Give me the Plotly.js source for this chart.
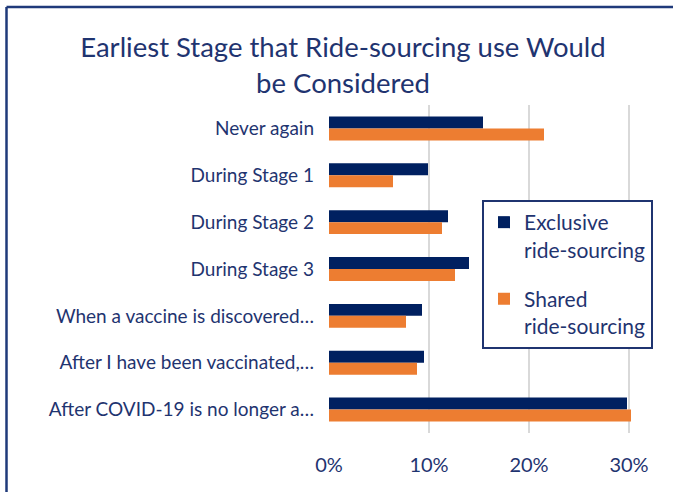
<!DOCTYPE html>
<html>
<head>
<meta charset="utf-8">
<script src="https://cdn.plot.ly/plotly-3.0.1.min.js"></script>
<style>html,body{margin:0;padding:0;background:#fff;}#chart{width:673px;height:492px;}</style>
</head>
<body>
<div id="chart"></div>
<script>
var categories = [
  "Never again",
  "During Stage 1",
  "During Stage 2",
  "During Stage 3",
  "When a vaccine is discovered…",
  "After I have been vaccinated,…",
  "After COVID-19 is no longer a…"
];
var exclusiveValues = [15.4, 9.9, 11.9, 14.0, 9.3, 9.5, 29.8];
var sharedValues = [21.5, 6.4, 11.3, 12.6, 7.7, 8.8, 30.2];
var seriesNames = ["Exclusive<br>ride-sourcing", "Shared<br>ride-sourcing"];
var xTickValues = [0, 10, 20, 30];
var xTickLabels = ["0%", "10%", "20%", "30%"];

var navy = "#002060";
var orange = "#ED7D31";
var textColor = "#1F3470";
var fontFam = "Lato, 'Open Sans', sans-serif";

var traces = [
  {type: "bar", orientation: "h", y: categories, x: exclusiveValues, name: seriesNames[0],
   legendgroup: "g1", marker: {color: navy}},
  {type: "bar", orientation: "h", y: categories, x: sharedValues, name: seriesNames[1],
   legendgroup: "g2", marker: {color: orange}}
];

var L = 329, R = 673 - 639, T = 105, B = 492 - 433;
var pw = 673 - L - R, ph = 492 - T - B;
function px(x) { return (x - L) / pw; }
function py(y) { return (492 - B - y) / ph; }

var layout = {
  width: 673, height: 492,
  margin: {l: L, r: R, t: T, b: B},
  paper_bgcolor: "#fff", plot_bgcolor: "#fff",
  font: {family: fontFam, color: textColor},
  title: {text: "Earliest Stage that Ride-sourcing use Would<br>be Considered",
          font: {size: 27.5, color: textColor, family: fontFam},
          x: 343 / 673, xanchor: "center", xref: "container",
          y: 1 - 57 / 492, yanchor: "middle", yref: "container"},
  barmode: "group", bargap: 0.49, bargroupgap: 0,
  showlegend: true,
  legend: {x: px(482), y: py(200), xanchor: "left", yanchor: "top",
           bgcolor: "#fff", bordercolor: "#1F3470", borderwidth: 2,
           font: {size: 21, color: textColor, family: fontFam},
           traceorder: "grouped", itemwidth: 30, tracegroupgap: 19, valign: "top"},
  xaxis: {range: [0, 31], tickvals: xTickValues, ticktext: xTickLabels,
          showgrid: true, gridcolor: "#D9D9D9", gridwidth: 1.5, zeroline: false,
          showline: false, ticks: "", tickfont: {size: 20, color: textColor},
          ticklabelstandoff: 18, fixedrange: true},
  yaxis: {autorange: "reversed", showgrid: false, zeroline: false, showline: false,
          ticks: "", tickfont: {size: 19, color: textColor}, ticklabelstandoff: 14,
          fixedrange: true},
  shapes: [
    {type: "line", xref: "paper", yref: "paper", x0: px(6.5), x1: px(6.5), y0: py(500), y1: py(7),
     line: {color: "#1F3A7A", width: 2.5}},
    {type: "line", xref: "paper", yref: "paper", x0: px(6.5), x1: px(680), y0: py(7), y1: py(7),
     line: {color: "#1F3A7A", width: 2.5}}
  ]
};

Plotly.newPlot("chart", traces, layout, {displayModeBar: false, staticPlot: true});
</script>
</body>
</html>
